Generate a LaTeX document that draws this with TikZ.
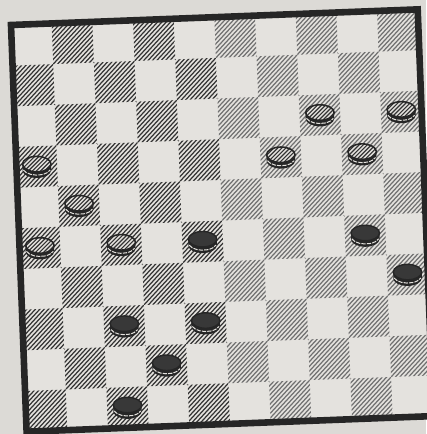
\documentclass[tikz,border=0pt]{standalone}
\usetikzlibrary{calc}
\definecolor{BoardPaper}{HTML}{DCDAD6}
\definecolor{BoardLight}{HTML}{E4E2DE}
\definecolor{BoardInk}{HTML}{262626}
\definecolor{BoardHatch}{HTML}{333333}
\definecolor{BoardHatchFaint}{HTML}{707070}

\begin{document}
\begin{tikzpicture}[
    hatch/.style={BoardHatch,line width=0.85pt},
    frame/.style={draw=BoardInk,line width=4.6pt},
    band/.pic={
      \fill[BoardInk] (-0.35,0.06) -- (-0.35,-0.09)
        arc[start angle=180,end angle=360,x radius=0.35,y radius=0.19] -- (0.35,0.06) -- cycle;
      \draw[BoardLight,line width=0.7pt,dash pattern=on 3pt off 0.8pt] (0,-0.02) ++(200:0.35 and 0.19)
        arc[start angle=200,end angle=340,x radius=0.35,y radius=0.19];
    },
    whitepiece/.pic={
      \pic {band};
      \fill[BoardLight] (0,0.06) ellipse[x radius=0.35,y radius=0.19];
      \begin{scope}
        \clip (0,0.06) ellipse[x radius=0.35,y radius=0.19];
        \foreach \k in {-9,...,5} \draw[hatch,line width=0.8pt] (\k/10,-0.2) -- ++(0.5,0.5);
      \end{scope}
      \draw[BoardInk,line width=1.1pt] (0,0.06) ellipse[x radius=0.35,y radius=0.19];
    },
    blackpiece/.pic={
      \pic {band};
      \fill[black!78] (0,0.06) ellipse[x radius=0.35,y radius=0.19];
      \draw[BoardInk,line width=1pt] (0,0.06) ellipse[x radius=0.35,y radius=0.19];
    }
  ]
    \useasboundingbox (0,0) rectangle (10.467,-10.663);
    \fill[BoardPaper] (0,0) rectangle (10.467,-10.663);

    \begin{scope}[shift={(0.27,-0.614)},rotate=2.2]
      \fill[BoardLight] (0,0) rectangle (10,-10);

      % dark squares, left half printed darker than right half
      \begin{scope}
        \clip foreach \r in {0,...,9} { foreach \c in {0,...,4} {
          \ifodd\numexpr\r+\c\relax (\c,-\r) rectangle ++(1,-1) \fi } };
        \foreach \k in {-90,...,45} \draw[hatch] (\k/9,-10) -- ++(10,10);
      \end{scope}
      \begin{scope}
        \clip foreach \r in {0,...,9} { foreach \c in {5,...,9} {
          \ifodd\numexpr\r+\c\relax (\c,-\r) rectangle ++(1,-1) \fi } };
        \foreach \k in {-45,...,90} \draw[hatch,BoardHatchFaint] (\k/9,-10) -- ++(10,10);
      \end{scope}
      \draw[frame] (0,0) rectangle (10,-10);

      % pieces
      \foreach \c/\r in {0/3,1/4,0/5,2/5,7/2,9/2,6/3,8/3}
        \pic at (\c+0.5,-\r-0.5) {whitepiece};
      \foreach \c/\r in {4/5,8/5,9/6,2/7,4/7,3/8,2/9}
        \pic at (\c+0.5,-\r-0.5) {blackpiece};
    \end{scope}
  \end{tikzpicture}
\end{document}
